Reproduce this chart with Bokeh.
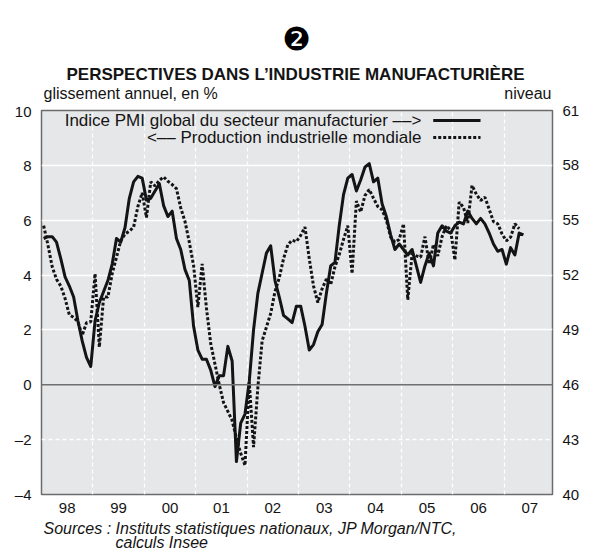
import numpy as np
from bokeh.plotting import figure
from bokeh.layouts import column
from bokeh.models import Range1d, LinearAxis, FixedTicker, Grid, Span, Label
from bokeh.core.properties import value
from bokeh.embed import file_html
from bokeh.resources import INLINE

# ---------------- data ----------------
start_year = 1998
year_labels = ["98", "99", "00", "01", "02", "03", "04", "05", "06", "07"]
left_ticks = [-4, -2, 0, 2, 4, 6, 8, 10]
right_ticks = [40, 43, 46, 49, 52, 55, 58, 61]

# Global manufacturing PMI (level, right axis), monthly Jan 1998 - May 2007
pmi = [
    54.0, 54.1, 54.1, 53.8, 52.9, 51.9, 51.4, 50.8, 49.5, 48.4, 47.5, 47.0,
    49.5, 50.5, 51.1, 51.7, 52.6, 54.0, 53.8, 54.6, 56.2, 57.1, 57.4, 57.3,
    56.1, 56.2, 56.6, 57.0, 55.8, 55.2, 55.5, 54.0, 53.4, 52.3, 51.7, 49.2,
    47.9, 47.4, 47.4, 46.8, 45.9, 46.5, 46.5, 48.1, 47.3, 41.8, 43.9, 44.4,
    46.2, 49.0, 51.0, 52.1, 53.2, 53.6, 51.7, 50.8, 49.8, 49.6, 49.4, 50.3,
    50.3, 49.2, 47.9, 48.2, 48.9, 49.3, 51.0, 52.5, 52.7, 54.7, 56.4, 57.3,
    57.5, 56.6, 57.2, 57.9, 58.1, 57.1, 57.3, 55.9, 55.2, 54.2, 53.4, 53.7,
    53.4, 53.1, 53.4, 52.5, 51.6, 52.5, 53.2, 52.5, 54.3, 54.7, 54.4, 54.3,
    54.7, 54.9, 54.8, 55.5, 55.1, 54.8, 55.1, 54.8, 54.3, 53.7, 53.3, 53.4,
    52.6, 53.5, 53.1, 54.3, 54.2,
]

# World industrial production, y/y % (left axis), monthly Jan 1998 - Apr 2007
prod = [
    5.8, 5.1, 4.3, 3.85, 3.6, 3.15, 2.55, 2.46, 2.3, 1.8, 2.26, 2.3,
    4.05, 1.37, 3.2, 3.2, 4.05, 4.65, 5.25, 5.5, 5.6, 5.75, 6.5, 7.0,
    6.1, 7.4, 7.25, 7.45, 7.58, 7.42, 7.3, 7.15, 6.45, 5.95, 5.2, 4.35,
    2.83, 4.41, 2.8, 1.5, 0.75, 0.0, -0.65, -0.97, -1.3, -1.95, -2.5, -2.94,
    0.1, -2.27, -0.1, 1.6, 2.1, 2.6, 3.4, 3.9, 4.6, 5.1, 5.27, 5.22,
    5.45, 5.75, 4.6, 3.6, 3.0, 3.5, 3.85, 3.65, 4.3, 4.75, 5.3, 5.8,
    4.05, 6.7, 6.3, 6.9, 7.12, 6.8, 6.5, 6.38, 6.0, 5.38, 5.2, 5.3,
    5.87, 3.1, 4.77, 4.7, 4.65, 5.4, 4.4, 5.12, 4.7, 5.4, 5.8, 5.63,
    4.55, 6.66, 6.47, 5.9, 7.27, 6.95, 6.72, 6.84, 6.4, 5.95, 5.87, 5.5,
    5.25, 5.38, 5.87, 5.69,
]

title_text = "PERSPECTIVES DANS L\u2019INDUSTRIE MANUFACTURI\u00c8RE"
left_unit = "glissement annuel, en %"
right_unit = "niveau"
legend_pmi = "Indice PMI global du secteur manufacturier \u2013\u2013>"
legend_prod = "<\u2013\u2013 Production industrielle mondiale"
source_1 = "Sources : Instituts statistiques nationaux, JP Morgan/NTC,"
source_2 = "calculs Insee"

# ---------------- styling ----------------
FONT = "Liberation Sans"
INK = "#141414"
W = 590
BL, BR = 41, 38            # left / right borders (frame from x=41 to x=552)
H_HEAD, H_MAIN, H_FOOT = 102, 418, 30


def text_panel(h):
    # frame aligned with the chart frame; x data units = page pixels
    f = figure(width=W, height=h, output_backend="svg", toolbar_location=None,
               x_range=Range1d(BL, W - BR), y_range=Range1d(h, 0),
               x_axis_location=None, y_axis_location=None,
               min_border_left=BL, min_border_right=BR, min_border_top=0,
               min_border_bottom=0, outline_line_color=None,
               background_fill_color="white", border_fill_color="white")
    f.grid.visible = False
    return f


# ---------- header ----------
head = text_panel(H_HEAD)
head.text(x=[296], y=[38], text=["\u2777"], text_align="center", text_baseline="middle",
          text_font=value("DejaVu Sans"), text_font_size="32px", text_color="black")
head.text(x=[295], y=[74], text=[title_text], text_align="center", text_baseline="middle",
          text_font=value(FONT), text_font_size="17px", text_font_style="bold",
          text_color=INK)
head.text(x=[43], y=[93], text=[left_unit], text_align="left", text_baseline="middle",
          text_font=value(FONT), text_font_size="16px", text_color=INK)
head.text(x=[551], y=[93], text=[right_unit], text_align="right", text_baseline="middle",
          text_font=value(FONT), text_font_size="16px", text_color=INK)

# ---------- main chart ----------
x_pmi = start_year + (np.arange(len(pmi)) + 0.5) / 12.0
x_prod = start_year + (np.arange(len(prod)) + 0.5) / 12.0

p = figure(width=W, height=H_MAIN, output_backend="svg", toolbar_location=None,
           x_range=Range1d(1998.0, 2007.94), y_range=Range1d(-4, 10),
           min_border_left=BL, min_border_right=BR, min_border_top=8,
           min_border_bottom=26, background_fill_color="#e6e7e9",
           border_fill_color="white", outline_line_color="#6c6c6c",
           outline_line_width=1.5)
p.extra_y_ranges = {"niveau": Range1d(40, 61)}

p.xaxis.ticker = FixedTicker(ticks=[start_year + i + 0.5 for i in range(len(year_labels))])
p.xaxis.major_label_overrides = {start_year + i + 0.5: lab for i, lab in enumerate(year_labels)}
p.yaxis.ticker = FixedTicker(ticks=left_ticks)
p.yaxis.major_label_overrides = {t: str(t).replace("-", "\u2013") for t in left_ticks}

raxis = LinearAxis(y_range_name="niveau", ticker=FixedTicker(ticks=right_ticks))
p.add_layout(raxis, "right")

for ax in [p.xaxis[0], p.yaxis[0], raxis]:
    ax.axis_line_color = None
    ax.major_tick_line_color = None
    ax.minor_tick_line_color = None
    ax.major_tick_out = 0
    ax.major_tick_in = 0
    ax.minor_tick_out = 0
    ax.minor_tick_in = 0
    ax.major_label_text_font = FONT
    ax.major_label_text_font_size = "15px"
    ax.major_label_text_color = INK
p.xaxis.major_label_standoff = 8
p.yaxis[0].major_label_standoff = 10
raxis.major_label_standoff = 10

p.xgrid.ticker = FixedTicker(ticks=list(range(1999, 2008)))
p.xgrid.grid_line_color = "white"
p.xgrid.grid_line_dash = "4 3"
p.xgrid.grid_line_width = 1.3
p.ygrid.ticker = FixedTicker(ticks=[2, 4, 6, 8])
p.ygrid.grid_line_color = "white"
p.ygrid.grid_line_width = 1.6
g2 = Grid(dimension=1, ticker=FixedTicker(ticks=[-2]), grid_line_color="white",
          grid_line_dash="4 3", grid_line_width=1.3)
p.add_layout(g2)
p.add_layout(Span(location=0, dimension="width", line_color="#707070", line_width=1.5))

p.line(x_prod, prod, line_color=INK, line_width=3, line_dash="3 2")
p.line(x_pmi, pmi, line_color=INK, line_width=3, y_range_name="niveau", line_join="round")

# legend: text right-aligned, key to the right of the text
leg_y1, leg_y2 = 9.635, 9.015
p.add_layout(Label(x=2005.39, y=leg_y1, text=legend_pmi, text_align="right",
                   text_baseline="middle", text_font=FONT, text_font_size="17px",
                   text_color=INK))
p.add_layout(Label(x=2005.39, y=leg_y2, text=legend_prod, text_align="right",
                   text_baseline="middle", text_font=FONT, text_font_size="17px",
                   text_color=INK))
p.line([2005.62, 2006.54], [leg_y1, leg_y1], line_color=INK, line_width=3)
p.line([2005.62, 2006.54], [leg_y2, leg_y2], line_color=INK, line_width=3, line_dash="3 2")

# ---------- footer ----------
foot = text_panel(H_FOOT)
foot.text(x=[43], y=[8], text=[source_1], text_align="left", text_baseline="middle",
          text_font=value(FONT), text_font_size="16px", text_font_style="italic",
          text_color=INK)
foot.text(x=[115], y=[22], text=[source_2], text_align="left", text_baseline="middle",
          text_font=value(FONT), text_font_size="16px", text_font_style="italic",
          text_color=INK)

layout = column(head, p, foot, spacing=0)
open("out.html", "w").write(file_html(layout, INLINE))
